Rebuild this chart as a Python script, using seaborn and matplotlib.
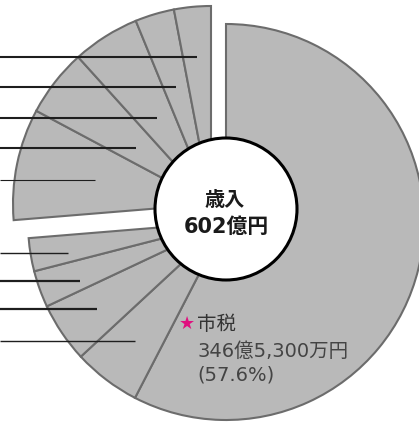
import numpy as np
import matplotlib
matplotlib.use('Agg')
import matplotlib.pyplot as plt
import seaborn as sns

# shares of revenue (%), clockwise from 12 o'clock
city_tax = 57.6
lower_group = [5.5, 4.9, 3.0, 2.7]
upper_group = [9.1, 5.5, 5.5, 3.2, 3.0]

center_title = '歳入'
center_total = '602億円'
tax_name = '市税'
tax_amount = '346億5,300万円'
tax_share = '(57.6%)'

values = [city_tax] + lower_group + upper_group
n_main = 1 + len(lower_group)

sns.set_theme(style='white')
plt.rcParams['font.family'] = ['DejaVu Sans', 'Noto Sans CJK JP']

W, H = 419, 425
fig = plt.figure(figsize=(W / 100, H / 100), dpi=100)
ax = fig.add_axes([0, 0, 1, 1])

fill = '#b9b9b9'
edge = '#6c6c6c'
R = 198

# main block (市税 + lower group), upper group drawn invisible here
main_wedges, _ = ax.pie(values, startangle=90, counterclock=False,
                        center=(226, H - 222), radius=R,
                        colors=[fill] * len(values),
                        wedgeprops=dict(edgecolor=edge, linewidth=1.5))
# upper group pulled out up-left
upper_wedges, _ = ax.pie(values, startangle=90, counterclock=False,
                         center=(211, H - 204), radius=R,
                         colors=[fill] * len(values),
                         wedgeprops=dict(edgecolor=edge, linewidth=1.5))
for i, w in enumerate(main_wedges):
    if i >= n_main:
        w.set_visible(False)
for i, w in enumerate(upper_wedges):
    if i < n_main:
        w.set_visible(False)

# leader lines from the left edge to each small slice (radius, angle nudge, width)
lead_r_lower = [150, 156, 158, 161]
lead_da_lower = [0, 0, 2.2, 1.5]
lead_w_lower = [1.0, 1.6, 1.6, 1.0]
lead_r_upper = [118, 94, 102, 122, 148]
lead_da_upper = [0, 1.3, 0, 0, 0]
lead_w_upper = [0.8, 1.5, 1.5, 1.5, 1.5]


def leader(wedge, r, da, lw):
    mid = np.deg2rad((wedge.theta1 + wedge.theta2) / 2 + da)
    cx, cy = wedge.center
    x = cx + r * np.cos(mid)
    y = cy + r * np.sin(mid)
    ax.plot([0, x], [y, y], color='#1e1e1e', lw=lw, solid_capstyle='butt', zorder=5)


for w, r, da, lw in zip(main_wedges[1:n_main], lead_r_lower, lead_da_lower, lead_w_lower):
    leader(w, r, da, lw)
for w, r, da, lw in zip(upper_wedges[n_main:], lead_r_upper, lead_da_upper, lead_w_upper):
    leader(w, r, da, lw)

# centre hole
hole = plt.Circle((226, H - 209), 71, facecolor='white', edgecolor='black',
                  linewidth=2.2, zorder=6)
ax.add_patch(hole)
ax.text(225, H - 200, center_title, ha='center', va='center', fontsize=14.5,
        fontweight='bold', color='#1a1a1a', zorder=7)
ax.text(226, H - 227, center_total, ha='center', va='center', fontsize=15,
        fontweight='bold', color='#1a1a1a', zorder=7)

# 市税 label
ax.text(179, H - 324, '★', ha='left', va='center', fontsize=13,
        color='#e0107f', zorder=7)
ax.text(197, H - 324, tax_name, ha='left', va='center', fontsize=14,
        color='#333333', zorder=7)
ax.text(197, H - 351, tax_amount, ha='left', va='center', fontsize=14,
        color='#444444', zorder=7)
ax.text(197, H - 375, tax_share, ha='left', va='center', fontsize=14,
        color='#444444', zorder=7)

ax.set_xlim(0, W)
ax.set_ylim(0, H)
ax.set_aspect('auto')
ax.axis('off')

fig.savefig('out.png', dpi=100, facecolor='white')
